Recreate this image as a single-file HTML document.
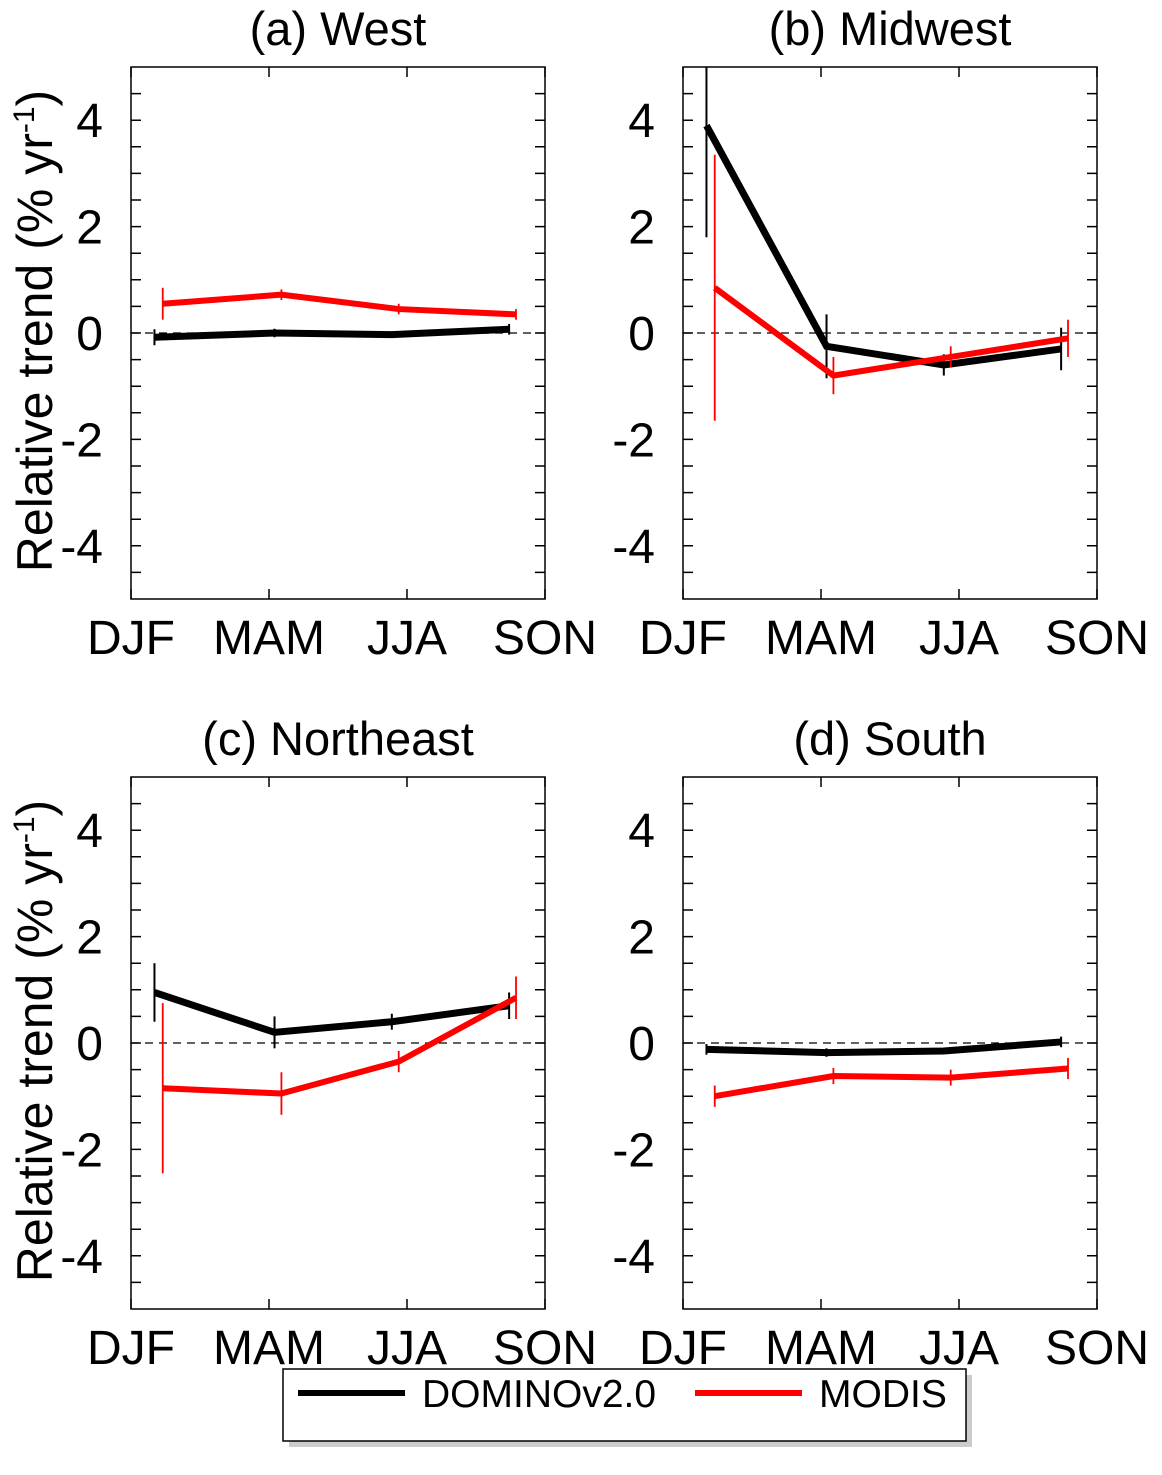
<!DOCTYPE html>
<html><head><meta charset="utf-8"><style>
body{margin:0;background:#fff;}
svg text{font-family:"Liberation Sans",sans-serif;}
</style></head><body>
<svg id="fig" width="1162" height="1470" viewBox="0 0 1162 1470" xmlns="http://www.w3.org/2000/svg">
<g id="root"></g>
<g>
<rect x="289" y="1375" width="683" height="72" fill="#ccc"/>
<rect x="283" y="1369" width="683" height="72" fill="#fff" stroke="#000" stroke-width="1.5"/>
<line x1="298" y1="1393" x2="405" y2="1393" stroke="#000" stroke-width="6"/>
<text x="422" y="1407" font-size="39">DOMINOv2.0</text>
<line x1="695" y1="1393" x2="802" y2="1393" stroke="#f00" stroke-width="6"/>
<text x="819" y="1407" font-size="39">MODIS</text>
</g>
</svg>
<script>
const seasons=["DJF","MAM","JJA","SON"];
const blackPos=[0.17,1.04,1.89,2.74];
const redPos=[0.23,1.09,1.94,2.79];
const titles=["(a) West","(b) Midwest","(c) Northeast","(d) South"];
const domino=[[-0.08,0.0,-0.03,0.07],[3.9,-0.25,-0.6,-0.3],[0.95,0.2,0.4,0.7],[-0.12,-0.18,-0.15,0.02]];
const dominoErr=[[0.15,0.08,0.05,0.1],[2.1,0.6,0.2,0.4],[0.55,0.3,0.15,0.25],[0.1,0.08,0.06,0.1]];
const modis=[[0.55,0.72,0.45,0.35],[0.85,-0.8,-0.45,-0.1],[-0.85,-0.95,-0.35,0.85],[-1.0,-0.62,-0.65,-0.48]];
const modisErr=[[0.3,0.1,0.1,0.1],[2.5,0.35,0.2,0.35],[1.6,0.4,0.2,0.4],[0.2,0.15,0.15,0.2]];
const yTicks=[4,2,0,-2,-4];
const NS="http://www.w3.org/2000/svg";
const root=document.getElementById('root');
function mk(tag,attrs,parent){const e=document.createElementNS(NS,tag);for(const k in attrs)e.setAttribute(k,attrs[k]);parent.appendChild(e);return e;}
const boxes=[[131,67],[683,67],[131,777],[683,777]];
const W=414,H=532;
boxes.forEach(([bx,by],p)=>{
  const g=mk('g',{},root);
  
  
  const X=v=>bx+v*W/3;
  const Y=v=>by+(5-v)*H/10;
  const cp='clip'+p;
  const c=mk('clipPath',{id:cp},g);mk('rect',{x:bx,y:by,width:W,height:H},c);
  const t=mk('text',{x:bx+W/2,y:by-22,'font-size':47,'text-anchor':'middle'},g);t.textContent=titles[p];
  
  
  const z=mk('line',{x1:bx,x2:bx+W,y1:Y(0),y2:Y(0),stroke:'#000','stroke-width':1.2,'stroke-dasharray':'8,6'},g);
  
  
  for(let v=-4.5;v<=4.5;v+=0.5){
    const tk=mk('path',{d:`M${bx},${Y(v)}h10M${bx+W},${Y(v)}h-10`,stroke:'#000','stroke-width':1.5},g);
    
    
  }
  yTicks.forEach(v=>{
    const l=mk('text',{x:bx-28,y:Y(v)+17,'font-size':48,'text-anchor':'end'},g);l.textContent=v<0?'-'+(-v):v;
    
    
  });
  seasons.forEach((s,i)=>{
    const tk=mk('path',{d:`M${X(i)},${by+H}v-10M${X(i)},${by}v10`,stroke:'#000','stroke-width':1.5},g);
    
    
    const l=mk('text',{x:X(i),y:by+H+55,'font-size':48,'text-anchor':'middle'},g);l.textContent=s;
    
    
  });
  const series=[[domino[p],dominoErr[p],blackPos,'#000',7,2,'domino'],[modis[p],modisErr[p],redPos,'#f00',6,1.8,'modis']];
  series.forEach(([vals,errs,pos,col,lw,ew,nm])=>{
    const sg=mk('g',{'clip-path':`url(#${cp})`},g);
    
    
    vals.forEach((v,i)=>{
      const e=mk('path',{d:`M${X(pos[i])},${Y(v-errs[i])}V${Y(v+errs[i])}`,stroke:col,'stroke-width':ew},sg);
      
      
    });
    const ln=mk('polyline',{points:vals.map((v,i)=>X(pos[i])+','+Y(v)).join(' '),fill:'none',stroke:col,'stroke-width':lw},sg);
    
    
  });
  const fr=mk('rect',{x:bx,y:by,width:W,height:H,fill:'none',stroke:'#000','stroke-width':1.5},g);
  
  
  if(p%2===0){
    const yt=mk('text',{x:0,y:0,'font-size':50,'text-anchor':'middle',transform:`translate(52,${by+H/2-2}) rotate(-90)`},g);
    yt.innerHTML='Relative trend (% yr<tspan dy="-18" font-size="30">-1</tspan><tspan dy="18">)</tspan>';
    
    
  }
});
</script>
</body></html>
